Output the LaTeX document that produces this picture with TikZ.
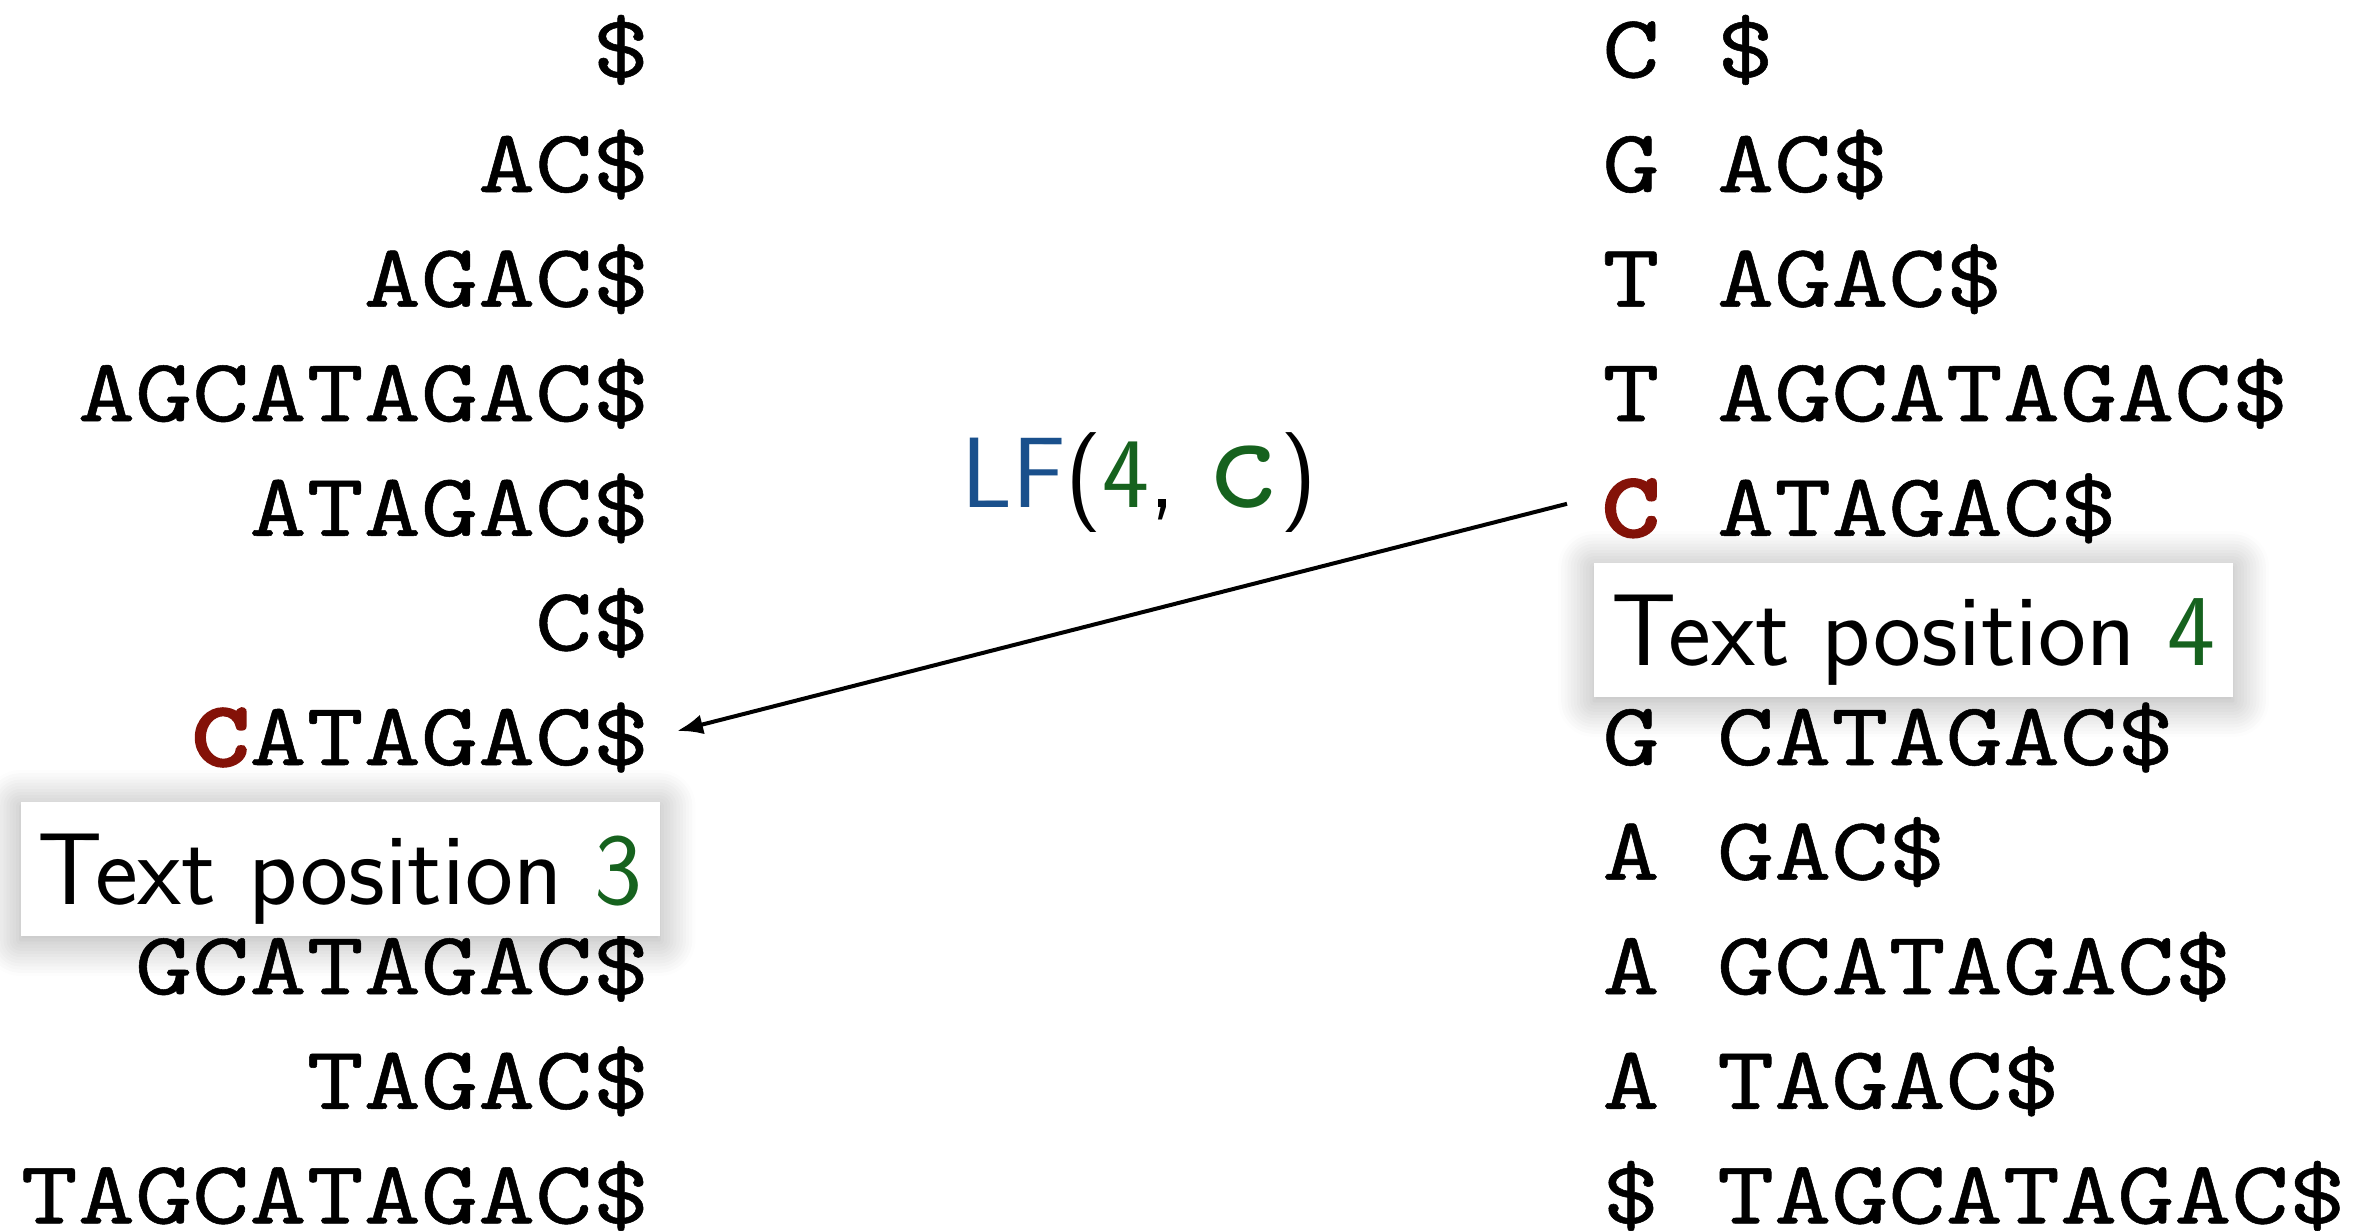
\documentclass[tikz,border=0pt]{standalone}
\usepackage{fontspec}
\usetikzlibrary{shadows.blur,arrows.meta,calc}
\newfontfamily\monof{lmmono10-regular.otf}[FakeStretch=1.21,FakeBold=0.6]
\newfontfamily\monob{lmmono10-regular.otf}[FakeStretch=1.21,FakeBold=4]
\newfontfamily\monoc{lmmono10-regular.otf}
\definecolor{mred}{RGB}{132,18,8}
\definecolor{pgreen}{RGB}{22,98,30}
\definecolor{lfblue}{RGB}{26,80,140}
\begin{document}
\begin{tikzpicture}[x=0.5pt,y=-0.5pt,
  mono/.style={font=\monof\fontsize{45}{54}\selectfont, inner sep=0pt},
  lrow/.style={mono, anchor=base east},
  rrow/.style={mono, anchor=base west},
  posbox/.style={fill=white, inner sep=0pt, minimum width=319.5pt, minimum height=67pt,
    text height=35pt, text depth=0pt, font=\sffamily\fontsize{51}{59}\selectfont,
    blur shadow={shadow blur radius=18pt, shadow xshift=0pt, shadow yshift=-2pt, shadow opacity=35, shadow blur steps=12}},
  arr/.style={line width=2pt, -{Latex[length=13pt,width=10pt]}}]
\useasboundingbox (0,0) rectangle (2374,1231);
% left column: sorted suffixes
\node[lrow] (l0) at (650,77.4) {\$};
\node[lrow] (l1) at (650,192.0) {AC\$};
\node[lrow] (l2) at (650,306.6) {AGAC\$};
\node[lrow] (l3) at (650,421.2) {AGCATAGAC\$};
\node[lrow] (l4) at (650,535.8) {ATAGAC\$};
\node[lrow] (l5) at (650,650.4) {C\$};
\node[lrow] (l6) at (650,765.0) {{\color{mred}\monob C}ATAGAC\$};
\node[lrow] (l8) at (650,994.2) {GCATAGAC\$};
\node[lrow] (l9) at (650,1108.8) {TAGAC\$};
\node[lrow] (l10) at (650,1223.4) {TAGCATAGAC\$};
% right column: BWT character and suffix
\node[rrow] (r0c) at (1602,77.4) {C};
\node[rrow] (r0s) at (1716.6,77.4) {\$};
\node[rrow] (r1c) at (1602,192.0) {G};
\node[rrow] (r1s) at (1716.6,192.0) {AC\$};
\node[rrow] (r2c) at (1602,306.6) {T};
\node[rrow] (r2s) at (1716.6,306.6) {AGAC\$};
\node[rrow] (r3c) at (1602,421.2) {T};
\node[rrow] (r3s) at (1716.6,421.2) {AGCATAGAC\$};
\node[rrow, text=mred] (r4c) at (1602,535.8) {\monob C};
\node[rrow] (r4s) at (1716.6,535.8) {ATAGAC\$};
\node[rrow] (r6c) at (1602,765.0) {G};
\node[rrow] (r6s) at (1716.6,765.0) {CATAGAC\$};
\node[rrow] (r7c) at (1602,879.6) {A};
\node[rrow] (r7s) at (1716.6,879.6) {GAC\$};
\node[rrow] (r8c) at (1602,994.2) {A};
\node[rrow] (r8s) at (1716.6,994.2) {GCATAGAC\$};
\node[rrow] (r9c) at (1602,1108.8) {A};
\node[rrow] (r9s) at (1716.6,1108.8) {TAGAC\$};
\node[rrow] (r10c) at (1602,1223.4) {\$};
\node[rrow] (r10s) at (1716.6,1223.4) {TAGCATAGAC\$};
% LF label
\node[anchor=base west, inner sep=0pt, font=\sffamily\fontsize{50}{58}\selectfont] (lf) at (961,507)
  {\textcolor{lfblue}{LF}(\textcolor{pgreen}{4}, \textcolor{pgreen}{\monoc\fontsize{70}{76}\selectfont c})};
% arrow
\draw[arr] ($(r4c.base west)+(-35,-32)$) -- ($(l6.base east)+(27,-34)$);
% text position boxes
\node[posbox] (tp3) at (340,869) {Text position \textcolor{pgreen}{3}};
\node[posbox] (tp4) at (1913.5,630) {Text position \textcolor{pgreen}{4}};
\end{tikzpicture}
\end{document}
